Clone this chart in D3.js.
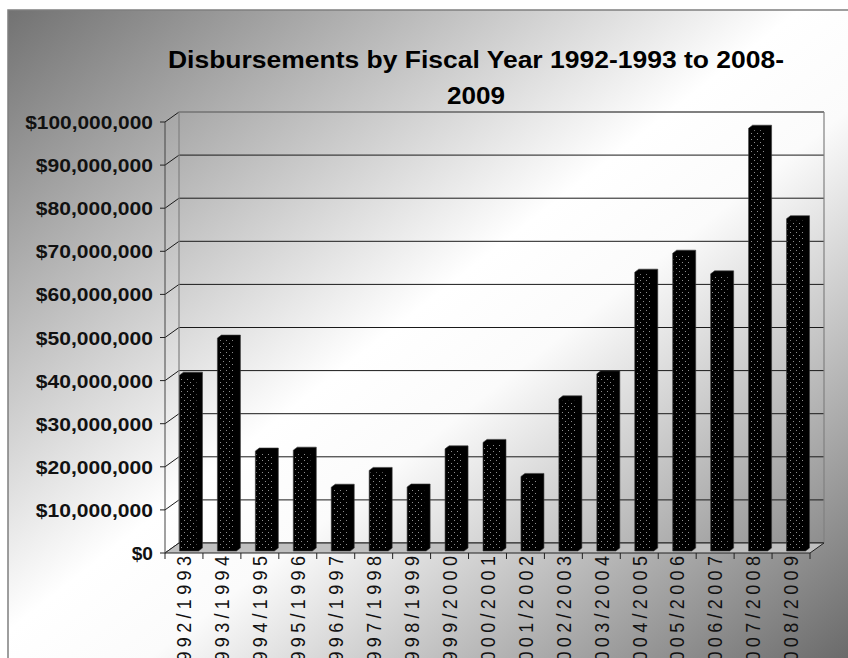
<!DOCTYPE html>
<html>
<head>
<meta charset="utf-8">
<script src="https://cdn.jsdelivr.net/npm/d3@7/dist/d3.min.js"></script>
<style>
  html, body { margin: 0; padding: 0; background: #ffffff; }
  svg { display: block; }
</style>
</head>
<body>
<svg id="chart" width="848" height="658"></svg>
<script>
// ---- data ----
const categories = ["1992/1993","1993/1994","1994/1995","1995/1996","1996/1997","1997/1998",
  "1998/1999","1999/2000","2000/2001","2001/2002","2002/2003","2003/2004","2004/2005",
  "2005/2006","2006/2007","2007/2008","2008/2009"];
const disbursements = [40800000, 49400000, 23200000, 23400000, 14800000, 18700000,
  14850000, 23700000, 25200000, 17300000, 35300000, 41100000, 64700000,
  69100000, 64300000, 98100000, 77100000];
const yTickValues = [0, 10000000, 20000000, 30000000, 40000000, 50000000,
  60000000, 70000000, 80000000, 90000000, 100000000];
const titleLines = ["Disbursements by Fiscal Year 1992-1993 to 2008-", "2009"];

(function () {
// ---- layout ----
const svg = d3.select("#chart");
const defs = svg.append("defs");

const bg = defs.append("linearGradient").attr("id", "bgGrad")
  .attr("x1", 0).attr("y1", 0).attr("x2", 1).attr("y2", 1);
[[0, "#727272"], [0.45, "#ffffff"], [0.55, "#fbfbfb"], [1, "#575757"]].forEach(([o, c]) =>
  bg.append("stop").attr("offset", o).attr("stop-color", c));

const pat = defs.append("pattern").attr("id", "dots").attr("patternUnits", "userSpaceOnUse")
  .attr("width", 6).attr("height", 6);
pat.append("rect").attr("width", 6).attr("height", 6).attr("fill", "#000");
pat.append("rect").attr("x", 1).attr("y", 1).attr("width", 1).attr("height", 1).attr("fill", "#8c8c8c");
pat.append("rect").attr("x", 4).attr("y", 4).attr("width", 1).attr("height", 1).attr("fill", "#8c8c8c");

// outer chart area
svg.append("rect").attr("x", 8).attr("y", 10).attr("width", 880).attr("height", 690)
  .attr("fill", "url(#bgGrad)").attr("stroke", "#7f7f7f").attr("stroke-width", 1.5);

const x = d3.scaleBand().domain(categories).range([165, 810]).paddingInner(0).paddingOuter(0);
const y = d3.scaleLinear().domain([0, 100000000]).range([553, 122]);
const DX = 14, DY = -10;           // wall depth
const xa = x.range()[0], xb = x.range()[1];

const g = svg.append("g");

// back wall gridlines
g.selectAll("line.grid").data(yTickValues.slice(0, -1)).join("line").attr("class", "grid")
  .attr("x1", xa + DX).attr("x2", xb + DX)
  .attr("y1", d => y(d) + DY).attr("y2", d => y(d) + DY)
  .attr("stroke", "#1a1a1a").attr("stroke-width", 1);
// left wall diagonals
g.selectAll("line.diag").data(yTickValues).join("line").attr("class", "diag")
  .attr("x1", xa).attr("x2", xa + DX)
  .attr("y1", d => y(d)).attr("y2", d => y(d) + DY)
  .attr("stroke", "#1a1a1a").attr("stroke-width", 1);
// back wall frame
const wallTop = y(100000000) + DY, wallBot = y(0) + DY;
g.append("line").attr("x1", xa + DX).attr("x2", xb + DX).attr("y1", wallTop).attr("y2", wallTop)
  .attr("stroke", "#808080").attr("stroke-width", 2);
g.append("line").attr("x1", xa + DX).attr("x2", xa + DX).attr("y1", wallTop).attr("y2", wallBot)
  .attr("stroke", "#808080").attr("stroke-width", 1.2);
g.append("line").attr("x1", xb + DX).attr("x2", xb + DX).attr("y1", wallTop).attr("y2", wallBot)
  .attr("stroke", "#808080").attr("stroke-width", 1.2);

// floor
g.append("path")
  .attr("d", `M${xa},${y(0)}L${xb},${y(0)}L${xb + DX},${y(0) + DY}L${xa + DX},${y(0) + DY}Z`)
  .attr("fill", "#c0c0c0").attr("stroke", "#222").attr("stroke-width", 1);

// bars
const bw = 19, bdx = 4, bdy = -3, offX = 5, offY = -2;
const bars = g.selectAll("g.bar").data(categories.map((c, i) => ({ c, v: disbursements[i] })))
  .join("g").attr("class", "bar");
bars.append("path").attr("d", d => {
  const l = x(d.c) + x.bandwidth() / 2 + offX - bw / 2, r = l + bw;
  const t = y(d.v) + offY, b = y(0) + offY;
  return `M${l},${b}L${l},${t}L${l + bdx},${t + bdy}L${r + bdx},${t + bdy}L${r + bdx},${b + bdy}L${r},${b}Z`;
}).attr("fill", "#000").attr("stroke", "#3a3a3a").attr("stroke-width", 0.6);
bars.append("rect")
  .attr("x", d => x(d.c) + x.bandwidth() / 2 + offX - bw / 2 + 1)
  .attr("y", d => y(d.v) + offY + 2)
  .attr("width", bw - 3)
  .attr("height", d => y(0) - y(d.v) - 4)
  .attr("fill", "url(#dots)");

// y axis (front)
g.append("line").attr("x1", xa).attr("x2", xa).attr("y1", y(100000000)).attr("y2", y(0))
  .attr("stroke", "#444").attr("stroke-width", 1);
g.selectAll("line.ytick").data(yTickValues).join("line").attr("class", "ytick")
  .attr("x1", xa - 5).attr("x2", xa).attr("y1", d => y(d)).attr("y2", d => y(d))
  .attr("stroke", "#222");
const fmt = v => "$" + d3.format(",")(v);
g.selectAll("text.ylab").data(yTickValues).join("text").attr("class", "ylab")
  .attr("x", 153).attr("y", d => y(d) + 7)
  .attr("text-anchor", "end")
  .attr("font-family", "Liberation Sans, Arial, sans-serif")
  .attr("font-weight", "bold").attr("font-size", 19).attr("fill", "#111")
  .attr("textLength", d => fmt(d).length * 10.65)
  .attr("lengthAdjust", "spacingAndGlyphs")
  .text(fmt);

// x axis ticks
g.selectAll("line.xtick").data(d3.range(categories.length + 1)).join("line").attr("class", "xtick")
  .attr("x1", i => xa + i * x.step()).attr("x2", i => xa + i * x.step())
  .attr("y1", y(0)).attr("y2", y(0) + 6).attr("stroke", "#222");
g.selectAll("text.xlab").data(categories).join("text").attr("class", "xlab")
  .attr("transform", c => `translate(${x(c) + x.bandwidth() / 2},556) scale(1.12,1) rotate(-90)`)
  .attr("text-anchor", "end").attr("dy", "0.36em")
  .attr("font-family", "Liberation Sans, Arial, sans-serif")
  .attr("font-size", 18).attr("fill", "#111")
  .attr("textLength", 120).attr("lengthAdjust", "spacing")
  .text(c => c);

// title
svg.selectAll("text.title").data(titleLines).join("text").attr("class", "title")
  .attr("x", 476).attr("y", (d, i) => 68 + i * 36)
  .attr("text-anchor", "middle")
  .attr("font-family", "Liberation Sans, Arial, sans-serif")
  .attr("font-weight", "bold").attr("font-size", 23).attr("fill", "#000")
  .attr("textLength", (d, i) => i === 0 ? 616 : 58)
  .attr("lengthAdjust", "spacingAndGlyphs")
  .text(d => d);
})();
</script>
</body>
</html>
